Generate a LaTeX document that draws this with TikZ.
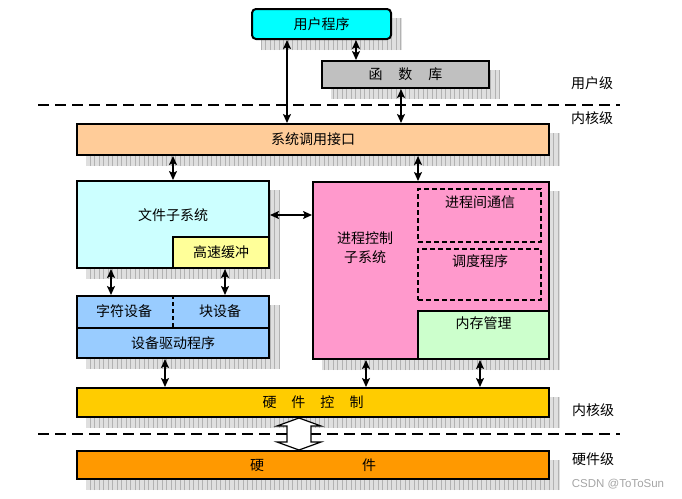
\documentclass[tikz,border=0pt]{standalone}
\usepackage{fontspec}
\setmainfont{Noto Sans CJK SC}
\newfontfamily\latinfont{Liberation Sans}
\usetikzlibrary{arrows.meta,backgrounds}
\definecolor{cyanC}{HTML}{00FFFF}
\definecolor{libC}{HTML}{C0C0C0}
\definecolor{sciC}{HTML}{FFCC99}
\definecolor{fsC}{HTML}{CCFFFF}
\definecolor{cacheC}{HTML}{FFFF99}
\definecolor{pcC}{HTML}{FF99CC}
\definecolor{memC}{HTML}{CCFFCC}
\definecolor{devC}{HTML}{99CCFF}
\definecolor{hcC}{HTML}{FFCC00}
\definecolor{hwC}{HTML}{FF9900}
\newcommand\shadowrect[2]{%
  \fill[gray!25] ([shift={(10,10)}]#1) rectangle ([shift={(10,10)}]#2);
  \draw[gray!60, line width=0.6pt, step=4.5] ([shift={(10,10)}]#1) grid ([shift={(10,10)}]#2);}
\begin{document}
\begin{tikzpicture}[x=1pt,y=-1pt,
  box/.style={draw, line width=2pt, inner sep=0pt, font=\fontsize{14}{16}\selectfont},
  dbox/.style={draw, dash pattern=on 5pt off 3pt, line width=1.2pt, inner sep=0pt},
  dar/.style={line width=2pt, {Stealth[length=9pt,width=8pt,inset=2pt]}-{Stealth[length=9pt,width=8pt,inset=2pt]}},
  lbl/.style={font=\fontsize{14}{19}\selectfont, inner sep=0pt},
  sepline/.style={dash pattern=on 11pt off 6pt, line width=2.5pt}
]
\useasboundingbox (0,0) rectangle (682,498);

% boxes
\node[box, fill=cyanC, rounded corners=4pt, minimum width=139pt, minimum height=30pt] (up) at (321.5,24) {用户程序};
\node[box, fill=libC, minimum width=167pt, minimum height=27pt] (lib) at (405.5,74.5) {函\hspace{16pt}数\hspace{16pt}库};
\node[box, fill=sciC, minimum width=472pt, minimum height=31pt] (sci) at (313,139.5) {系统调用接口};

\node[box, fill=fsC, minimum width=192pt, minimum height=87pt] (fs) at (173,224.5) {};
\node[lbl] (fst) at (173,215) {文件子系统};
\node[box, fill=cacheC, minimum width=96pt, minimum height=31pt] (cache) at (221,252.5) {高速缓冲};

\node[box, fill=pcC, minimum width=236pt, minimum height=177pt] (pc) at (431,270.5) {};
\node[lbl, align=center] (pct) at (365,248) {进程控制\\子系统};
\node[dbox, minimum width=123pt, minimum height=53pt] (ipc) at (479.5,215.5) {};
\node[lbl] (ipct) at (480,202) {进程间通信};
\node[dbox, minimum width=123pt, minimum height=51pt] (sched) at (479.5,274.5) {};
\node[lbl] (schedt) at (480,261) {调度程序};
\node[box, fill=memC, minimum width=131pt, minimum height=48pt] (mem) at (483.5,335) {};
\node[lbl] (memt) at (483.5,323) {内存管理};

\node[box, fill=devC, minimum width=192pt, minimum height=32pt] (devtop) at (173,312) {};
\node[box, fill=devC, minimum width=192pt, minimum height=30pt] (drv) at (173,343) {设备驱动程序};
\node[lbl] (chr) at (124,311) {字符设备};
\node[lbl] (blk) at (220,311) {块设备};
\draw[dash pattern=on 4pt off 3pt, line width=1.2pt] (devtop.north) -- (devtop.south);

\node[box, fill=hcC, minimum width=472pt, minimum height=29pt] (hc) at (313,402.5) {硬\hspace{15pt}件\hspace{15pt}控\hspace{15pt}制};
\node[box, fill=hwC, minimum width=472pt, minimum height=28pt] (hw) at (313,465) {硬\hspace{98pt}件};

% shadows
\begin{scope}[on background layer]
\fill[white] (0,0) rectangle (682,498);
\shadowrect{up.north west}{up.south east}
\shadowrect{lib.north west}{lib.south east}
\shadowrect{sci.north west}{sci.south east}
\shadowrect{fs.north west}{fs.south east}
\shadowrect{pc.north west}{pc.south east}
\shadowrect{devtop.north west}{drv.south east}
\shadowrect{hc.north west}{hc.south east}
\shadowrect{hw.north west}{hw.south east}
\end{scope}

% separator lines
\coordinate (s1a) at (38,105); \coordinate (s1b) at (620,105);
\coordinate (s2a) at (38,434); \coordinate (s2b) at (620,434);
\draw[sepline] (s1a) -- (s1b);
\draw[sepline] (s2a) -- (s2b);

% x / y guides for connectors
\coordinate (x1) at (287,0);
\coordinate (x2) at (356,0);
\coordinate (x3) at (401,0);
\coordinate (x4) at (173,0);
\coordinate (x5) at (418,0);
\coordinate (x6) at (111,0);
\coordinate (x7) at (225,0);
\coordinate (x8) at (165,0);
\coordinate (x9) at (366,0);
\coordinate (x10) at (480,0);
\coordinate (y1) at (0,215);

\draw[dar] (up.south -| x1) -- (sci.north -| x1);
\draw[dar] (up.south -| x2) -- (lib.north -| x2);
\draw[dar] (lib.south -| x3) -- (sci.north -| x3);
\draw[dar] (sci.south -| x4) -- (fs.north -| x4);
\draw[dar] (sci.south -| x5) -- (pc.north -| x5);
\draw[dar] (fs.east |- y1) -- (pc.west |- y1);
\draw[dar] (fs.south -| x6) -- (devtop.north -| x6);
\draw[dar] (cache.south -| x7) -- (devtop.north -| x7);
\draw[dar] (drv.south -| x8) -- (hc.north -| x8);
\draw[dar] (pc.south -| x9) -- (hc.north -| x9);
\draw[dar] (mem.south -| x10) -- (hc.north -| x10);

% hollow double arrow
\coordinate (ha) at (299,418);
\coordinate (hb) at (299,450);
\draw[line width=1.2pt, fill=white, line join=miter]
  (ha) -- ++(22,8) -- ++(-10,0) -- ++(0,16) -- ++(10,0) -- (hb)
  -- ++(-22,-8) -- ++(10,0) -- ++(0,-16) -- ++(-10,0) -- cycle;

% level labels
\node[lbl] (l1) at (592,83) {用户级};
\node[lbl] (l2) at (592,118) {内核级};
\node[lbl] (l3) at (593,410) {内核级};
\node[lbl] (l4) at (593,459) {硬件级};
\node[inner sep=0pt, text=gray!70, font=\latinfont\fontsize{11.5}{13}\selectfont] (wm) at (618,484) {CSDN @ToToSun};
\end{tikzpicture}
\end{document}
